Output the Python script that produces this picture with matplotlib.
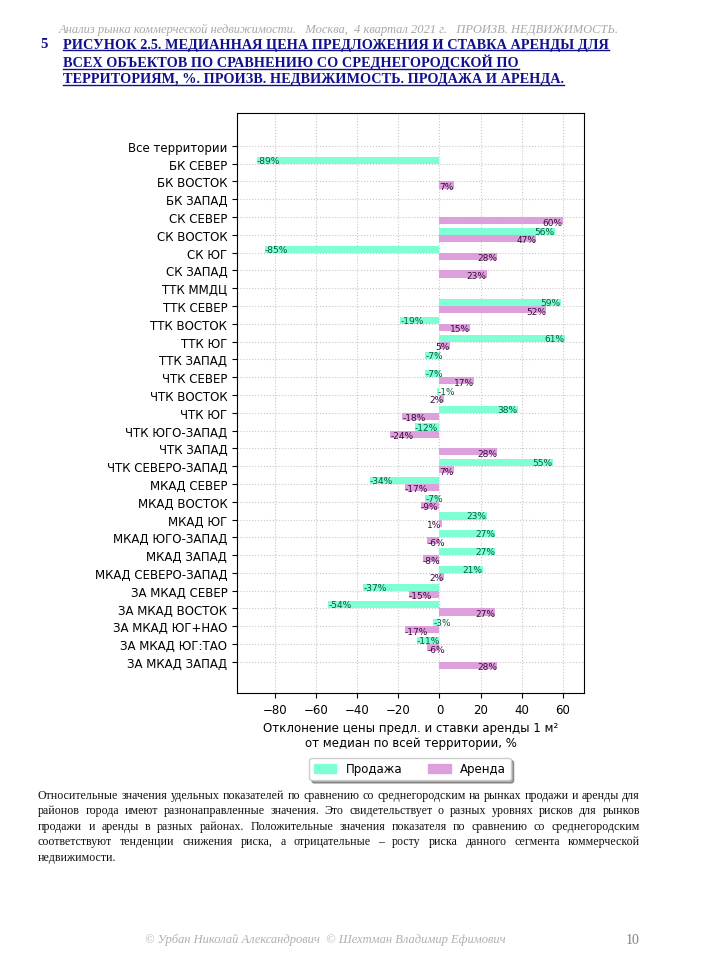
#!/usr/bin/env python3

import numpy as np
from matplotlib import pyplot as plt
from matplotlib.lines import Line2D
from matplotlib.patches import Patch

nan = np.nan

territories = ['Все территории', 'БК СЕВЕР', 'БК ВОСТОК', 'БК ЗАПАД',
               'СК СЕВЕР', 'СК ВОСТОК', 'СК ЮГ', 'СК ЗАПАД', 'ТТК ММДЦ',
               'ТТК СЕВЕР', 'ТТК ВОСТОК', 'ТТК ЮГ', 'ТТК ЗАПАД',
               'ЧТК СЕВЕР', 'ЧТК ВОСТОК', 'ЧТК ЮГ', 'ЧТК ЮГО-ЗАПАД',
               'ЧТК ЗАПАД', 'ЧТК СЕВЕРО-ЗАПАД', 'МКАД СЕВЕР', 'МКАД ВОСТОК',
               'МКАД ЮГ', 'МКАД ЮГО-ЗАПАД', 'МКАД ЗАПАД', 'МКАД СЕВЕРО-ЗАПАД',
               'ЗА МКАД СЕВЕР', 'ЗА МКАД ВОСТОК', 'ЗА МКАД ЮГ+НАО',
               'ЗА МКАД ЮГ:ТАО', 'ЗА МКАД ЗАПАД']

sale = [nan, -89, nan, nan, nan, 56, -85, nan, nan, 59, -19, 61, -7,
        -7, -1, 38, -12, nan, 55, -34, -7, 23, 27, 27, 21, -37, -54, -3,
        -11, nan]
rent = [nan, nan, 7, nan, 60, 47, 28, 23, nan, 52, 15, 5, nan,
        17, 2, -18, -24, 28, 7, -17, -9, 1, -6, -8, 2, -15, 27, -17,
        -6, 28]

header = 'Анализ рынка коммерческой недвижимости.   Москва,  4 квартал 2021 г.   ПРОИЗВ. НЕДВИЖИМОСТЬ.'
title_lines = ['РИСУНОК 2.5. МЕДИАННАЯ ЦЕНА ПРЕДЛОЖЕНИЯ И СТАВКА АРЕНДЫ ДЛЯ',
               'ВСЕХ ОБЪЕКТОВ ПО СРАВНЕНИЮ СО СРЕДНЕГОРОДСКОЙ ПО',
               'ТЕРРИТОРИЯМ, %. ПРОИЗВ. НЕДВИЖИМОСТЬ. ПРОДАЖА И АРЕНДА.']
body_lines = ['Относительные значения удельных показателей по сравнению со среднегородским на рынках продажи и аренды для',
              'районов города имеют разнонаправленные значения. Это свидетельствует о разных уровнях рисков для рынков',
              'продажи и аренды в разных районах. Положительные значения показателя по сравнению со среднегородским',
              'соответствуют тенденции снижения риска, а отрицательные – росту риска данного сегмента коммерческой',
              'недвижимости.']
footer = '© Урбан Николай Александрович  © Шехтман Владимир Ефимович'

W, H = 706, 979
fig = plt.figure(figsize=(W/100, H/100), dpi=100)

def fx(px):
    return px/W

def fy(py):
    return 1 - py/H

ax = fig.add_axes([fx(237), fy(694), fx(584)-fx(237), fy(114)-fy(694)])

y = np.arange(len(territories))
sale_a = np.array(sale, dtype=float)
rent_a = np.array(rent, dtype=float)
green = 'aquamarine'
pink = 'plum'

ax.barh(y - 0.2, np.nan_to_num(sale_a), height=0.4, color=green, zorder=2)
ax.barh(y + 0.2, np.nan_to_num(rent_a), height=0.4, color=pink, zorder=2)

for i in range(len(y)):
    if not np.isnan(sale_a[i]):
        v = sale_a[i]
        ax.text(v, y[i] - 0.2, '%d%%' % v, ha='left' if v < 0 else 'right',
                va='center', fontsize=6.5, color='#0b5a3c', zorder=3)
    if not np.isnan(rent_a[i]):
        v = rent_a[i]
        ax.text(v, y[i] + 0.28, '%d%%' % v, ha='left' if v < 0 else 'right',
                va='center', fontsize=6.5, color='#3a0a3a', zorder=3)

ax.set_yticks(y)
ax.set_yticklabels(territories, fontsize=8.5)
ax.set_xticks([-80, -60, -40, -20, 0, 20, 40, 60])
ax.tick_params(axis='x', labelsize=8.5)
ax.set_xlim(-98.5, 70.3)
ax.set_ylim(len(y) - 1 + 1.75, -1.85)
ax.grid(True, color='#c8c8c8', linestyle=':', linewidth=0.8, zorder=0)
ax.set_axisbelow(True)
ax.set_xlabel('Отклонение цены предл. и ставки аренды 1 м²\nот медиан по всей территории, %',
              fontsize=8.5)

handles = [Patch(color=green, label='Продажа'), Patch(color=pink, label='Аренда')]
fig.legend(handles=handles, loc='center', bbox_to_anchor=(fx(410), fy(770)),
           ncol=2, fontsize=8.5, shadow=True, fancybox=True, framealpha=1,
           handlelength=1.9, columnspacing=2.2)

serif = ['Liberation Serif', 'DejaVu Serif']
fig.text(fx(339), fy(30), header, ha='center', va='center', fontsize=9,
         style='italic', family=serif, color='#a8a8a8')

blue = '#10108c'
fig.text(fx(40), fy(45), '5', ha='left', va='center', fontsize=10.5,
         weight='bold', family=serif, color=blue)
title_texts = []
for k, ln in enumerate(title_lines):
    t = fig.text(fx(63), fy(45 + 17.5*k), ln, ha='left', va='center',
                 fontsize=10.3, weight='bold', family=serif, color=blue)
    title_texts.append(t)

fig.text(fx(325), fy(940), footer, ha='center', va='center', fontsize=9,
         style='italic', family=serif, color='#b0b0b0')
fig.text(fx(640), fy(940), '10', ha='right', va='center', fontsize=10,
         family=serif, color='#808080')

fig.canvas.draw()
renderer = fig.canvas.get_renderer()

# underline the title
for t in title_texts:
    bb = t.get_window_extent(renderer)
    yl = bb.y0 + 0.5
    fig.add_artist(Line2D([bb.x0/W, bb.x1/W], [yl/H, yl/H], color=blue,
                          linewidth=1.0))

# justified body text
x0, x1 = 38, 640
for k, ln in enumerate(body_lines):
    yy = fy(796 + 15.5*k)
    words = ln.split()
    if k == len(body_lines) - 1:
        fig.text(fx(x0), yy, ln, ha='left', va='center', fontsize=8.6,
                 family=serif, color='#111111')
        continue
    texts = [fig.text(0, yy, w, ha='left', va='center', fontsize=8.6,
                      family=serif, color='#111111') for w in words]
    widths = [t.get_window_extent(renderer).width for t in texts]
    gap = (x1 - x0 - sum(widths)) / (len(words) - 1)
    pos = x0
    for t, w in zip(texts, widths):
        t.set_x(fx(pos))
        pos += w + gap

fig.savefig('out.png', dpi=100)
